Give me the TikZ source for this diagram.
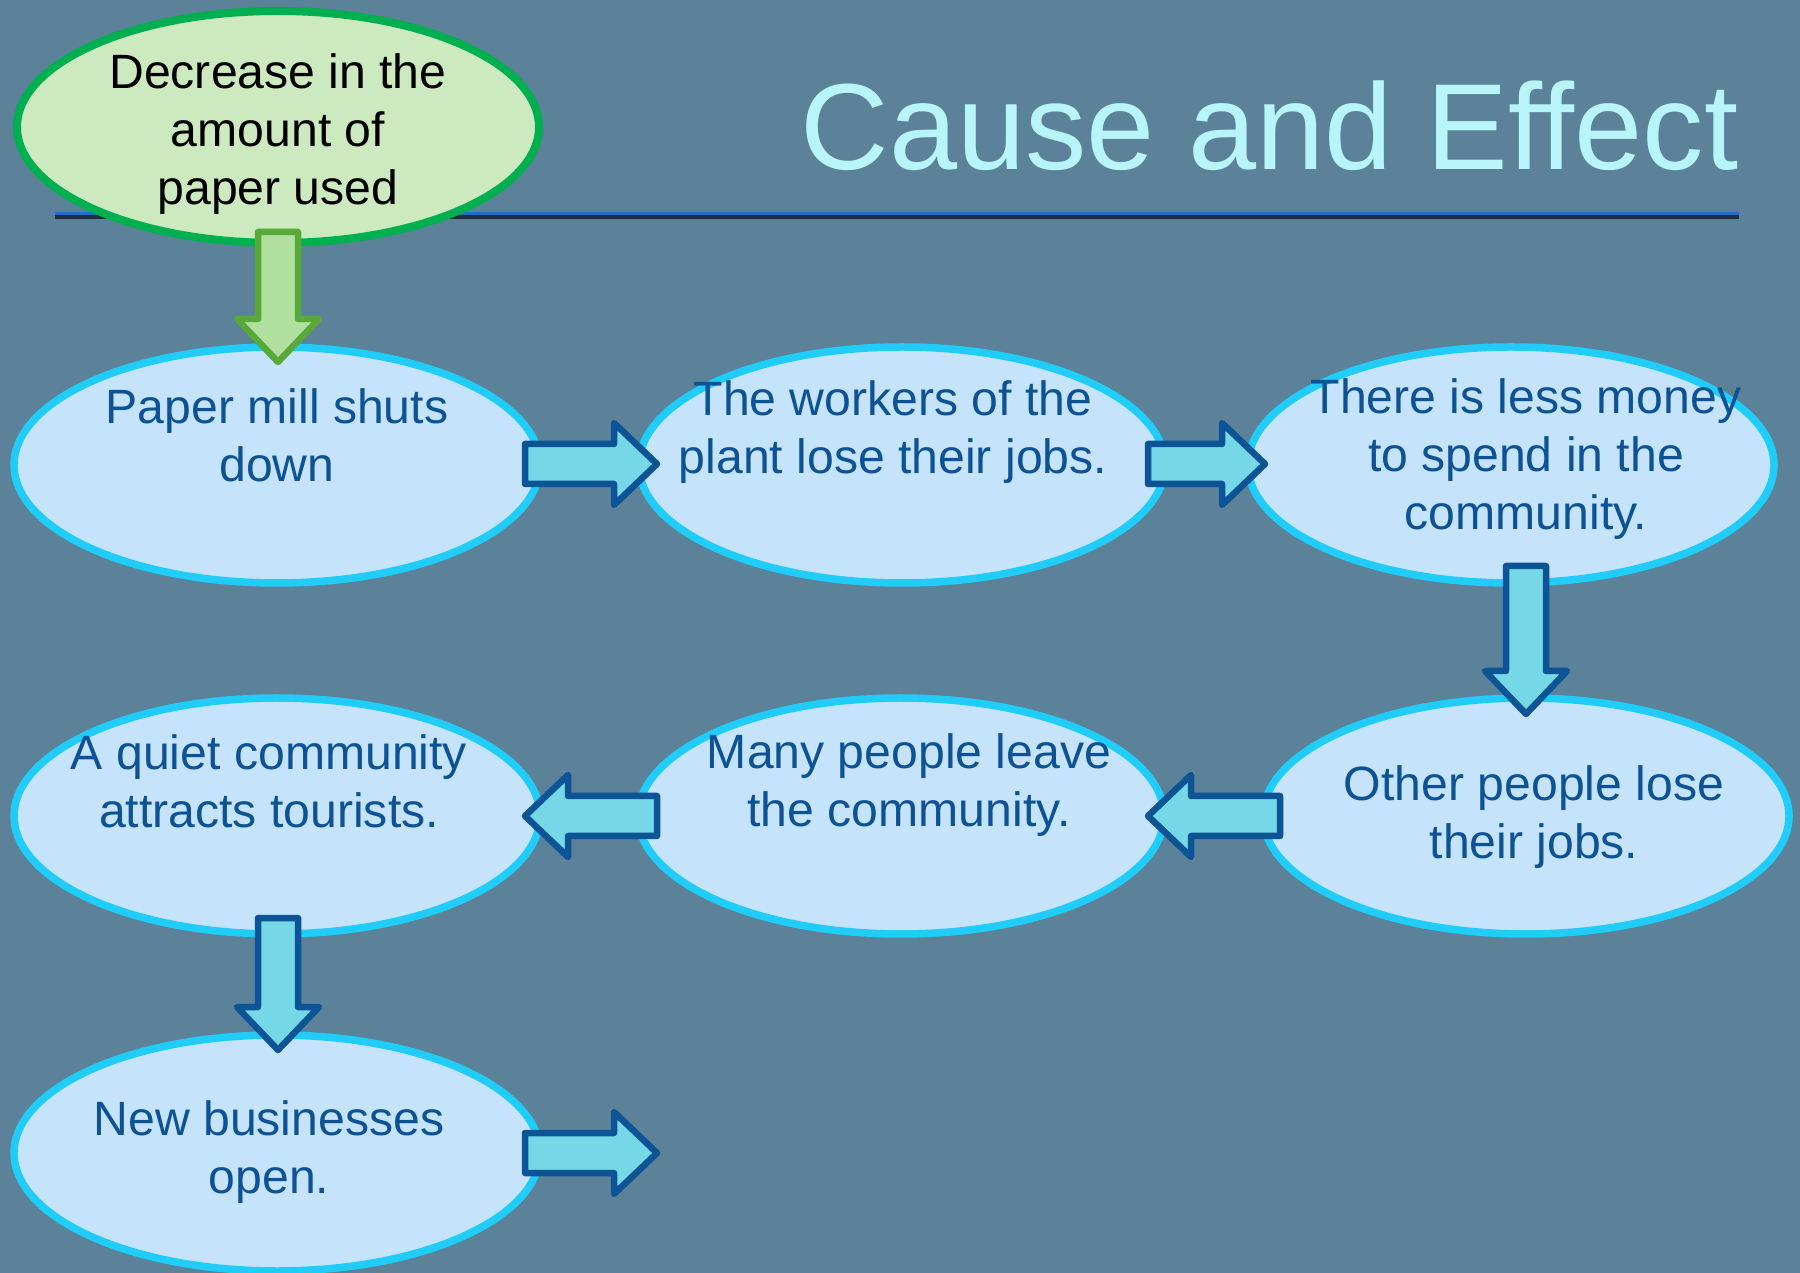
\documentclass[tikz,border=0pt]{standalone}
\usepackage{fontspec}
\setmainfont{Liberation Sans}
\usetikzlibrary{shapes.geometric}

\definecolor{slidebg}{RGB}{91,130,152}
\definecolor{bubblefill}{RGB}{197,227,250}
\definecolor{bubbleline}{RGB}{32,204,248}
\definecolor{bubbletext}{RGB}{12,82,148}
\definecolor{arrowfill}{RGB}{118,216,230}
\definecolor{arrowline}{RGB}{12,84,150}
\definecolor{seedfill}{RGB}{204,233,192}
\definecolor{seedline}{RGB}{0,176,80}
\definecolor{seedarrowfill}{RGB}{176,223,158}
\definecolor{seedarrowline}{RGB}{88,168,58}
\definecolor{titlecolor}{RGB}{184,245,250}
\definecolor{rulecolor}{RGB}{31,111,201}
\definecolor{ruleshadow}{RGB}{30,45,60}

\tikzset{
  bubble/.style={ellipse, draw=bubbleline, fill=bubblefill, line width=0.75mm,
    minimum width=52.6mm, minimum height=23.6mm, inner sep=0pt},
  seed/.style={ellipse, draw=seedline, fill=seedfill, line width=0.8mm,
    minimum width=52.2mm, minimum height=23.2mm, inner sep=0pt},
  caption/.style={align=center, text=bubbletext, inner sep=0pt,
    font=\fontsize{13.7pt}{16.6pt}\selectfont},
  seedcaption/.style={caption, text=black},
  flowarrow/.style={draw=arrowline, fill=arrowfill, line width=0.65mm, line join=round},
  seedarrow/.style={draw=seedarrowline, fill=seedarrowfill, line width=0.65mm, line join=round},
  % block arrow pointing along +x, total length #1 (in 0.1mm units)
  pics/blockarrow/.style={code={
    \path[pic actions] (0,-20) -- (#1-43,-20) -- (#1-43,-41) -- (#1,0)
      -- (#1-43,41) -- (#1-43,20) -- (0,20) -- cycle;
  }}
}

\begin{document}
\begin{tikzpicture}[x=0.1mm, y=-0.1mm]
  % slide background
  \fill[slidebg] (0,0) rectangle (1800,1273);
  \useasboundingbox (0,0) rectangle (1800,1273);

  % title and rule
  \node[anchor=base west, inner sep=0pt, text=titlecolor,
        font=\fontsize{34.85pt}{40pt}\selectfont] (title) at (800,170) {Cause and Effect};
  \draw[ruleshadow, line width=0.35mm] (55,217) -- (1739,217);
  \draw[rulecolor, line width=0.3mm] (55,214) -- (1739,214);

  % starting cause
  \node[seed] (start) at (278,127) {};
  \node[seedcaption] (tstart) at (278,134) {Decrease in the\\amount of\\paper used};

  % chain of effects
  \node[bubble] (mill)    at (277,465)  {};
  \node[bubble] (workers) at (902,465)  {};
  \node[bubble] (money)   at (1511,465) {};
  \node[bubble] (quiet)   at (277,816)  {};
  \node[bubble] (leave)   at (901,816)  {};
  \node[bubble] (others)  at (1526,816) {};
  \node[bubble] (newbiz)  at (277,1153) {};

  \node[caption] (tmill)    at (277,435)  {Paper mill shuts\\down};
  \node[caption] (tworkers) at (893,432)  {The workers of the\\plant lose their jobs.};
  \node[caption] (tmoney)   at (1526,459) {There is less money\\to spend in the\\community.};
  \node[caption] (tquiet)   at (269,781)  {A quiet community\\attracts tourists.};
  \node[caption] (tleave)   at (909,785)  {Many people leave\\the community.};
  \node[caption] (tothers)  at (1534,817) {Other people lose\\their jobs.};
  \node[caption] (tnewbiz)  at (269,1152) {New businesses\\open.};

  % block arrows between the bubbles
  \pic[seedarrow, rotate=-90] at (278,232)  {blockarrow=130};
  \pic[flowarrow]             at (525,464)  {blockarrow=132};
  \pic[flowarrow]             at (1148,464) {blockarrow=117};
  \pic[flowarrow, rotate=-90] at (1526,566) {blockarrow=148};
  \pic[flowarrow, rotate=180] at (1280,816) {blockarrow=132};
  \pic[flowarrow, rotate=180] at (657,816)  {blockarrow=132};
  \pic[flowarrow, rotate=-90] at (278,918)  {blockarrow=132};
  \pic[flowarrow]             at (525,1153) {blockarrow=132};
\end{tikzpicture}
\end{document}
